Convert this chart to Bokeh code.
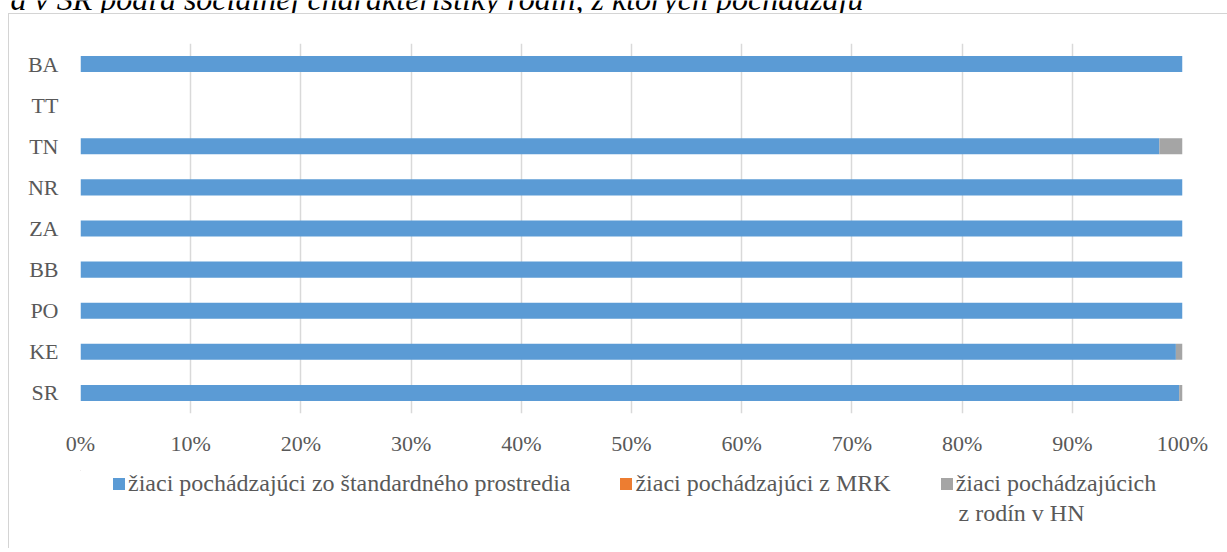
from bokeh.plotting import figure
from bokeh.layouts import column
from bokeh.models import (FactorRange, Range1d, FixedTicker, NumeralTickFormatter,
                          Legend, LegendItem, Label)
from bokeh.embed import file_html
from bokeh.resources import INLINE

# ---------------- data ----------------
regions = ["BA", "TT", "TN", "NR", "ZA", "BB", "PO", "KE", "SR"]
standard = [1.000, 0.0, 0.979, 1.000, 1.000, 1.000, 1.000, 0.994, 0.997]
mrk = [0.0, 0.0, 0.0, 0.0, 0.0, 0.0, 0.0, 0.0, 0.0]
hn = [0.0, 0.0, 0.021, 0.0, 0.0, 0.0, 0.0, 0.006, 0.003]
series_names = ["žiaci pochádzajúci zo štandardného prostredia",
                "žiaci pochádzajúci z MRK",
                "žiaci pochádzajúcich z rodín v HN"]
series_colors = ["#5B9BD5", "#ED7D31", "#A5A5A5"]
x_ticks = [0.0, 0.1, 0.2, 0.3, 0.4, 0.5, 0.6, 0.7, 0.8, 0.9, 1.0]
title_text = "a v SR podľa sociálnej charakteristiky rodín, z ktorých pochádzajú"

FONT = "Liberation Serif"
TXT = "#595959"
BORDER = "#D4D4D4"

# ---------------- clipped caption line above the chart ----------------
TW, TH = 1227, 13
pt = figure(width=TW, height=TH, output_backend="svg", toolbar_location=None,
            x_range=Range1d(0, TW), y_range=Range1d(TH, 0),
            x_axis_type=None, y_axis_type=None, title=None,
            min_border_left=0, min_border_right=0, min_border_top=0, min_border_bottom=0)
pt.outline_line_color = None
pt.grid.grid_line_color = None
pt.add_layout(Label(x=10, y=-1.5, text=title_text, text_font=FONT,
                    text_font_style="italic", text_font_size="32px",
                    text_baseline="alphabetic", text_color="black"))

# ---------------- main chart ----------------
W, H = 1218, 456
FL, FR, FT, FB = 71, 1173, 29, 399

p = figure(width=W, height=H, output_backend="svg", toolbar_location=None,
           y_range=FactorRange(factors=regions[::-1]),
           x_range=Range1d(0, 1),
           min_border_left=FL, min_border_right=W - FR,
           min_border_top=FT, min_border_bottom=H - FB,
           title=None)
p.outline_line_color = None
p.background_fill_color = "white"
p.border_fill_color = "white"

data = dict(region=regions, standard=standard, mrk=mrk, hn=hn)
rs = p.hbar_stack(["standard", "mrk", "hn"], y="region", height=0.39,
                  color=series_colors, source=data, line_color=None)

p.xaxis.ticker = FixedTicker(ticks=x_ticks)
p.xaxis.formatter = NumeralTickFormatter(format="0%")
for ax in (p.xaxis[0], p.yaxis[0]):
    ax.axis_line_color = None
    ax.major_tick_line_color = None
    ax.minor_tick_line_color = None
    ax.major_tick_out = 0
    ax.major_label_text_font = FONT
    ax.major_label_text_font_size = "22px"
    ax.major_label_text_color = TXT
p.yaxis.major_label_standoff = 22
p.xaxis.major_label_standoff = 17

p.xgrid.grid_line_color = "#D9D9D9"
p.xgrid.grid_line_width = 1.5
p.ygrid.grid_line_color = None

# ---------------- legend strip (frame is aligned with the chart's frame) ----------------
LW, LH = 1218, 78
pl = figure(width=LW, height=LH, output_backend="svg", toolbar_location=None,
            x_range=Range1d(FL, FR), y_range=Range1d(LH, 0),
            x_axis_type=None, y_axis_type=None, title=None,
            min_border_left=FL, min_border_right=W - FR, min_border_top=0, min_border_bottom=0)
pl.outline_line_color = None
pl.grid.grid_line_color = None
# legend-key renderers, placed outside the visible range
lr = [pl.hbar(y=[-100], left=[0], right=[1], height=1, color=c, line_color=None)
      for c in series_colors]
first_line, second_line = "žiaci pochádzajúcich", "z rodín v HN"
labels = [series_names[0], series_names[1], first_line]
legend = Legend(items=[LegendItem(label=labels[i], renderers=[lr[i]]) for i in range(3)],
                orientation="horizontal", location=(31, 51),
                glyph_width=15, glyph_height=15, label_standoff=2, spacing=48,
                padding=0, margin=0, border_line_color=None, background_fill_alpha=0,
                label_text_font=FONT, label_text_font_size="24px",
                label_text_color=TXT)
pl.add_layout(legend, "center")
pl.add_layout(Label(x=949, y=42, text=second_line, text_font=FONT,
                    text_font_size="24px", text_baseline="alphabetic", text_color=TXT))

body = column(p, pl, margin=(0, 0, 0, 8),
              styles={"border-left": "1px solid " + BORDER, "border-top": "1px solid " + BORDER})
page = column(pt, body)

open("out.html", "w").write(file_html(page, INLINE))
